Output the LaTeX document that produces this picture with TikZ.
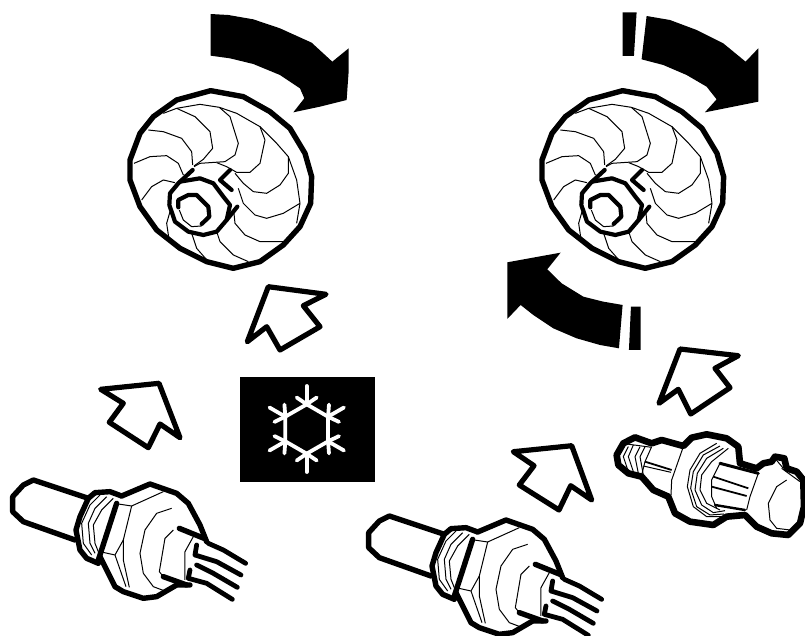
\documentclass[tikz,border=0pt]{standalone}
\usepackage{xcolor}
\usetikzlibrary{positioning,calc}

\begin{document}
\begin{tikzpicture}[
  x=1pt, y=-1pt,
  heavy/.style={line width=5.4pt, line join=round, line cap=round},
  medium/.style={line width=4.2pt, line join=round, line cap=round},
  hair/.style={line width=1pt, line join=round},
  hollow/.style={line width=5.2pt, line join=round, line cap=round},
  solid/.style={fill=black, draw=none},
  zoomed/.style={x=0.3333pt, y=-0.3333pt},
  fanwheel/.pic={
    \begin{scope}[zoomed]
    \draw[heavy] (272,272) -- (370,290) -- (450,335) -- (510,385) -- (555,460) -- (575,530)
      -- (572,610) -- (540,680) -- (490,735) -- (420,785) -- (340,805) -- (260,785)
      -- (180,745) -- (110,690) -- (60,620) -- (30,540) -- (30,480) -- (60,400)
      -- (100,350) -- (170,300) -- cycle;
    % rim and blades
    \draw[hair] (130,340) -- (170,325) -- (240,313) -- (298,322) -- (350,340) -- (420,380)
      -- (470,430) -- (505,470) -- (530,540) -- (540,610) -- (530,670);
    \draw[hair] (170,325) -- (225,350) -- (270,395) -- (278,445) -- (250,478) -- (222,498);
    \draw[hair] (298,322) -- (330,350) -- (355,430) -- (345,465) -- (315,485) -- (270,488)
      -- (240,490) -- (222,500);
    \draw[hair] (420,380) -- (435,420) -- (420,490) -- (390,517) -- (350,517) -- (320,500) -- (290,488);
    \draw[hair] (505,470) -- (505,520) -- (480,555) -- (440,580) -- (400,575) -- (370,550) -- (345,520);
    \draw[hair] (540,610) -- (490,640) -- (440,655) -- (405,645) -- (370,610) -- (355,565);
    \draw[hair] (490,725) -- (420,725) -- (375,705) -- (345,670) -- (342,640);
    \draw[hair] (385,785) -- (340,765) -- (300,725) -- (290,695);
    \draw[hair] (265,785) -- (230,745) -- (215,700);
    \draw[hair] (148,725) -- (140,670) -- (150,635);
    \draw[hair] (65,600) -- (95,560) -- (130,540) -- (165,548);
    \draw[hair] (42,490) -- (90,470) -- (140,467) -- (175,490) -- (190,525);
    \draw[hair] (85,390) -- (130,395) -- (185,415) -- (215,455) -- (218,495);
    % hub
    \draw[medium] (218,510) -- (175,550) -- (150,580) -- (148,615) -- (165,665) -- (205,695)
      -- (250,705) -- (290,695) -- (320,660) -- (352,620);
    \draw[medium] (180,545) -- (240,535) -- (280,550) -- (310,590) -- (330,615) -- (320,660);
    \draw[medium] (330,510) -- (300,540) -- (335,570);
    \draw[medium] (175,622) -- (175,600) -- (205,585) -- (230,585) -- (265,620) -- (268,650) -- (245,672);
    \draw[hair] (178,630) -- (190,660) -- (215,680) -- (245,678);
    \end{scope}
  },
  wiresensor/.pic={
    \begin{scope}[zoomed]
    % tube and thread
    \draw[heavy] (225,510) -- (70,455) -- (38,425) -- (38,380) -- (70,345) -- (100,330) -- (265,385);
    \draw[heavy] (295,580) -- (260,565) -- (240,540) -- (228,480) -- (240,440) -- (265,385)
      -- (285,368) -- (330,365) -- (365,378);
    \draw[heavy] (350,400) -- (295,570);
    \draw[hair] (300,375) -- (270,405) -- (245,460) -- (250,520) -- (275,555);
    \draw[hair] (320,380) -- (285,415) -- (265,460) -- (270,520) -- (285,550);
    \draw[hair] (340,385) -- (305,420) -- (280,465) -- (285,520) -- (295,545);
    % hex body
    \draw[heavy] (365,378) -- (450,342) -- (530,370) -- (565,400) -- (600,465) -- (620,515);
    \draw[heavy] (300,560) -- (345,650) -- (370,665) -- (430,685) -- (470,680) -- (530,645) -- (570,645);
    \draw[hair] (355,402) -- (395,408) -- (490,365);
    \draw[hair] (395,408) -- (370,510) -- (345,555) -- (300,545);
    \draw[hair] (370,510) -- (370,570) -- (388,652);
    \draw[hair] (345,555) -- (378,650);
    \draw[hair] (515,415) -- (470,430) -- (435,480) -- (420,550) -- (430,610) -- (460,650) -- (500,665);
    % stem
    \draw[heavy] (538,475) -- (612,505);
    \draw[heavy] (490,620) -- (560,645);
    \draw[hair] (520,480) -- (495,505) -- (478,605) -- (490,620);
    \draw[hair] (580,500) -- (555,545) -- (555,630);
    % wires
    \draw[heavy, line width=4.8pt] (625,520) -- (670,540) -- (737,580);
    \draw[heavy, line width=4.8pt] (590,525) -- (585,555) -- (650,575) -- (723,615);
    \draw[heavy, line width=4.8pt] (590,585) -- (640,610) -- (712,652);
    \draw[heavy, line width=4.8pt] (570,600) -- (565,625) -- (620,640) -- (697,688);
    \end{scope}
  },
  capswitch/.pic={
    \begin{scope}[zoomed]
    \draw[heavy, line width=6.6pt] (50,345) -- (70,310) -- (105,292) -- (155,310) -- (185,300) -- (250,318)
      -- (275,293) -- (320,283) -- (380,295) -- (415,320) -- (420,370) -- (470,385)
      -- (490,370) -- (515,365) -- (525,350) -- (553,355) -- (560,385) -- (590,395)
      -- (610,420) -- (612,500) -- (600,550) -- (565,585) -- (515,580) -- (470,560)
      -- (435,525) -- (380,530) -- (340,555) -- (270,545) -- (225,520) -- (205,470)
      -- (160,450) -- (125,410) -- (85,400) -- (55,375) -- cycle;
    % thread
    \draw[hair] (80,312) -- (155,322);
    \draw[hair] (85,320) -- (70,350) -- (85,395);
    \draw[hair] (100,315) -- (85,350) -- (100,395);
    \draw[hair] (120,320) -- (105,350) -- (115,400);
    \draw[hair] (135,320) -- (120,350) -- (130,405);
    % neck
    \draw[hair] (155,320) -- (135,365) -- (125,405);
    \draw[hair, line width=1.8pt] (135,365) -- (215,390);
    \draw[hair] (130,378) -- (213,397);
    \draw[hair] (250,320) -- (215,420) -- (213,465);
    % disc
    \draw[hair] (350,310) -- (300,340) -- (270,390) -- (262,440) -- (280,500) -- (320,530) -- (370,530);
    \draw[hair] (360,318) -- (310,345) -- (280,395) -- (272,445) -- (290,500) -- (330,525) -- (372,522);
    \draw[hair] (370,325) -- (320,355) -- (292,400) -- (285,450) -- (305,495) -- (340,518) -- (375,512);
    \draw[hair] (385,325) -- (335,365) -- (305,405) -- (300,450) -- (320,490) -- (360,510);
    % shaft
    \draw[heavy, line width=3pt] (360,370) -- (475,400);
    \draw[heavy, line width=2.4pt] (345,495) -- (435,510);
    \draw[hair] (360,370) -- (335,420) -- (335,470) -- (350,505);
    \draw[hair, line width=1.8pt] (340,410) -- (445,445);
    \draw[hair, line width=1.8pt] (335,440) -- (440,468);
    % cap
    \draw[hair] (475,400) -- (450,470) -- (440,510);
    \draw[hair] (560,420) -- (530,440) -- (505,490) -- (510,540) -- (530,565) -- (570,570);
    \draw[hair] (545,385) -- (600,425);
    \draw[hair] (525,355) -- (550,385);
    \end{scope}
  }
]
\useasboundingbox (0,0) rectangle (805,635);

% turning arrows
\begin{scope}[zoomed, shift={(360,0)}]
\fill[solid] (272,42) -- (325,45) -- (400,58) -- (480,85) -- (575,128) -- (637,185) -- (686,145)
  -- (686,215) -- (680,300) -- (600,320) -- (520,337) -- (553,295) -- (540,265) -- (480,225)
  -- (400,192) -- (330,175) -- (272,167) -- cycle;
\end{scope}
\begin{scope}[zoomed, shift={(1470,0)}]
\fill[solid] (470,48) -- (540,60) -- (620,90) -- (700,130) -- (767,185) -- (805,145) -- (805,305)
  -- (645,337) -- (680,298) -- (650,260) -- (590,225) -- (520,195) -- (455,178) -- cycle;
\fill[solid] (398,37) -- (440,37) -- (432,168) -- (398,168) -- cycle;
\fill[solid] (52,787) -- (212,758) -- (172,808) -- (215,850) -- (280,890) -- (340,905) -- (398,915)
  -- (387,1045) -- (330,1035) -- (260,1015) -- (190,985) -- (130,945) -- (92,915) -- (52,957) -- cycle;
\fill[solid] (423,920) -- (452,920) -- (452,1050) -- (417,1050) -- cycle;
\end{scope}

\pic (fanleft) at (120,0) {fanwheel};
\pic (fanright) at (532,0) {fanwheel};

% flow arrows
\draw[hollow] (268.3,286.7) -- (326,294.3) -- (303.3,305.7) -- (320,326.7) -- (280,350) -- (266.7,326.7) -- (247.3,341.7) -- cycle;
\draw[hollow] (100.7,389.3) -- (159,383.3) -- (180,437.7) -- (160,424) -- (148.3,447.7) -- (109.3,422.3) -- (123.3,403.3) -- cycle;
\draw[hollow] (513.3,451.7) -- (571.7,445.7) -- (591.7,500) -- (570.7,485.7) -- (559,510) -- (519.3,485) -- (534,465.7) -- cycle;
\draw[hollow] (680,349) -- (738.3,355.7) -- (715,368.3) -- (730,387.7) -- (690.7,414) -- (678.3,389.3) -- (659,403.3) -- cycle;

% cold symbol
\fill[solid] (240,377) rectangle (375,481.7);
\coordinate (flake) at (306.7,429);
\foreach \a in {0,60,...,300} {
  \begin{scope}[shift={(flake)}, rotate=\a, draw=white, line width=3.8pt, line cap=round, line join=round]
  \draw (0,-24.7) -- (21.4,-12.3);
  \draw (0,-24.7) -- (0,-43);
  \draw (-10,-31.5) -- (0,-24.7) -- (10,-31.5);
  \end{scope}
}

\pic (sensorleft) at (0,370) {wiresensor};
\pic (sensorright) at (356,406) {wiresensor};
\pic (switchright) at (600,340) {capswitch};
\end{tikzpicture}
\end{document}
